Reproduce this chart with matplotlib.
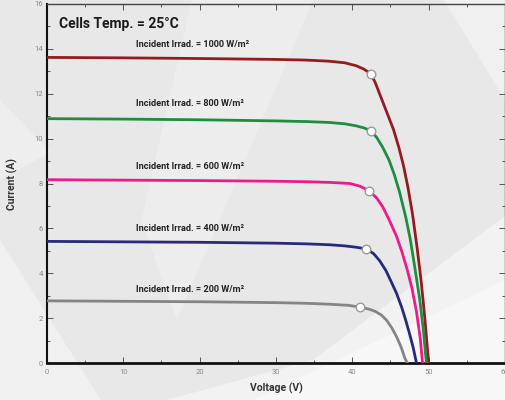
import matplotlib
matplotlib.use("Agg")
import matplotlib.pyplot as plt
from matplotlib.patches import Polygon
from matplotlib.ticker import MultipleLocator

# I-V curves, one pair of lists per irradiance
v_1000 = [0, 10, 20, 30, 34, 37, 39, 40.5, 41.5, 42.4, 43.0, 43.8, 44.6, 45.4, 46.1, 46.7, 47.3, 47.9, 48.5, 49.0, 49.5, 50.0]
i_1000 = [13.62, 13.6, 13.57, 13.53, 13.5, 13.45, 13.38, 13.25, 13.1, 12.9, 12.5, 11.8, 11.1, 10.4, 9.6, 8.8, 7.8, 6.6, 5.1, 3.7, 2.0, 0]

v_800 = [0, 10, 20, 30, 34, 37, 39, 40.5, 41.5, 42.4, 43.2, 44.0, 44.8, 45.5, 46.2, 47.0, 47.6, 48.2, 48.8, 49.3, 49.7]
i_800 = [10.89, 10.87, 10.84, 10.79, 10.76, 10.72, 10.66, 10.57, 10.48, 10.36, 10.05, 9.6, 9.05, 8.4, 7.6, 6.5, 5.5, 4.23, 2.9, 1.5, 0]

v_600 = [0, 10, 20, 30, 34, 37, 39.7, 41.0, 42.2, 43.2, 44.0, 44.8, 45.8, 46.5, 47.2, 47.8, 48.4, 48.9, 49.2]
i_600 = [8.17, 8.15, 8.13, 8.1, 8.08, 8.05, 8.0, 7.88, 7.68, 7.35, 6.95, 6.4, 5.64, 4.95, 4.15, 3.35, 2.3, 1.1, 0]

v_400 = [0, 10, 20, 30, 34, 37, 39, 40.5, 41.85, 42.8, 43.6, 44.4, 45.1, 45.8, 46.5, 47.0, 47.5, 48.0, 48.4]
i_400 = [5.42, 5.4, 5.38, 5.34, 5.31, 5.27, 5.22, 5.16, 5.08, 4.87, 4.55, 4.12, 3.62, 3.1, 2.45, 1.9, 1.3, 0.65, 0]

v_200 = [0, 10, 20, 30, 34, 37, 39.5, 41.0, 42.2, 43.0, 43.8, 44.5, 45.2, 45.8, 46.4, 46.9, 47.2]
i_200 = [2.77, 2.75, 2.73, 2.69, 2.66, 2.62, 2.57, 2.49, 2.4, 2.3, 2.14, 1.9, 1.55, 1.17, 0.7, 0.2, 0]

# maximum power points
mpp_v = [42.4, 42.4, 42.2, 41.85, 41.0]
mpp_i = [12.9, 10.36, 7.68, 5.08, 2.49]

labels = ["Incident Irrad. = 1000 W/m²", "Incident Irrad. = 800 W/m²",
          "Incident Irrad. = 600 W/m²", "Incident Irrad. = 400 W/m²",
          "Incident Irrad. = 200 W/m²"]
label_y = [14.2, 11.56, 8.75, 5.98, 3.26]
colors = ["#951b1e", "#1f8d3e", "#ee1a8a", "#27297c", "#858585"]

fig = plt.figure(figsize=(5.05, 4.0), dpi=100, facecolor="#e8e8e9")

# rough textured backdrop, kept behind the axes
bg = [
    ([(0.33, 0.0), (1.0, 0.0), (1.0, 0.46), (0.62, 0.1)], 0.45),
    ([(0.5, 0.0), (1.0, 0.0), (1.0, 0.3)], 0.4),
    ([(0.0, 0.0), (0.0, 0.4), (0.2, 0.0)], 0.35),
    ([(0.38, 1.0), (0.62, 1.0), (0.35, 0.2), (0.28, 0.45)], 0.25),
    ([(0.88, 1.0), (1.0, 1.0), (1.0, 0.75)], 0.35),
    ([(0.0, 0.55), (0.0, 0.75), (0.1, 0.62)], 0.3),
]
for pts, a in bg:
    fig.patches.append(Polygon(pts, closed=True, transform=fig.transFigure,
                               facecolor="white", edgecolor="none", alpha=a, zorder=-5))

ax = fig.add_axes([0.093, 0.0925, 0.907, 0.8975])
ax.set_facecolor("none")

curves = [(v_1000, i_1000), (v_800, i_800), (v_600, i_600), (v_400, i_400), (v_200, i_200)]
for (v, i), c in zip(curves, colors):
    ax.plot(v, i, color=c, lw=2.0, solid_joinstyle="round", zorder=3)

ax.scatter(mpp_v, mpp_i, s=38, facecolor="white", edgecolor="#9a9a9a", lw=1.0, zorder=4)

for lab, y in zip(labels, label_y):
    ax.text(11.7, y, lab, fontsize=6.6, fontweight="semibold", color="#222222",
            ha="left", va="center", family="Roboto")

ax.text(1.55, 15.13, "Cells Temp. = 25°C", fontsize=10, fontweight="semibold",
        color="#1a1a1a", ha="left", va="center", family="Roboto")

ax.set_xlim(0, 60)
ax.set_ylim(0, 16)
ax.xaxis.set_major_locator(MultipleLocator(10))
ax.xaxis.set_minor_locator(MultipleLocator(5))
ax.yaxis.set_major_locator(MultipleLocator(2))
ax.yaxis.set_minor_locator(MultipleLocator(1))
ax.tick_params(which="both", direction="in", top=True, right=True,
               colors="#555555", labelcolor="#8a8a8a", labelsize=5.5, width=0.7)
ax.tick_params(which="major", length=4)
ax.tick_params(which="minor", length=2.5)
ax.tick_params(axis="x", pad=4)
ax.tick_params(axis="y", pad=3)
for lab in ax.get_xticklabels() + ax.get_yticklabels():
    lab.set_family("Roboto")

ax.spines["left"].set_linewidth(1.5)
ax.spines["left"].set_color("#111111")
ax.spines["bottom"].set_linewidth(2.0)
ax.spines["bottom"].set_color("#111111")
ax.spines["top"].set_linewidth(1.0)
ax.spines["top"].set_color("#444444")
ax.spines["right"].set_linewidth(1.0)
ax.spines["right"].set_color("#444444")

ax.set_xlabel("Voltage (V)", fontsize=7.5, fontweight="semibold", color="#333333",
              family="Roboto", labelpad=6)
ax.set_ylabel("Current (A)", fontsize=7.5, fontweight="semibold", color="#333333",
              family="Roboto", labelpad=12)

fig.savefig("out.png", dpi=100, facecolor=fig.get_facecolor())
